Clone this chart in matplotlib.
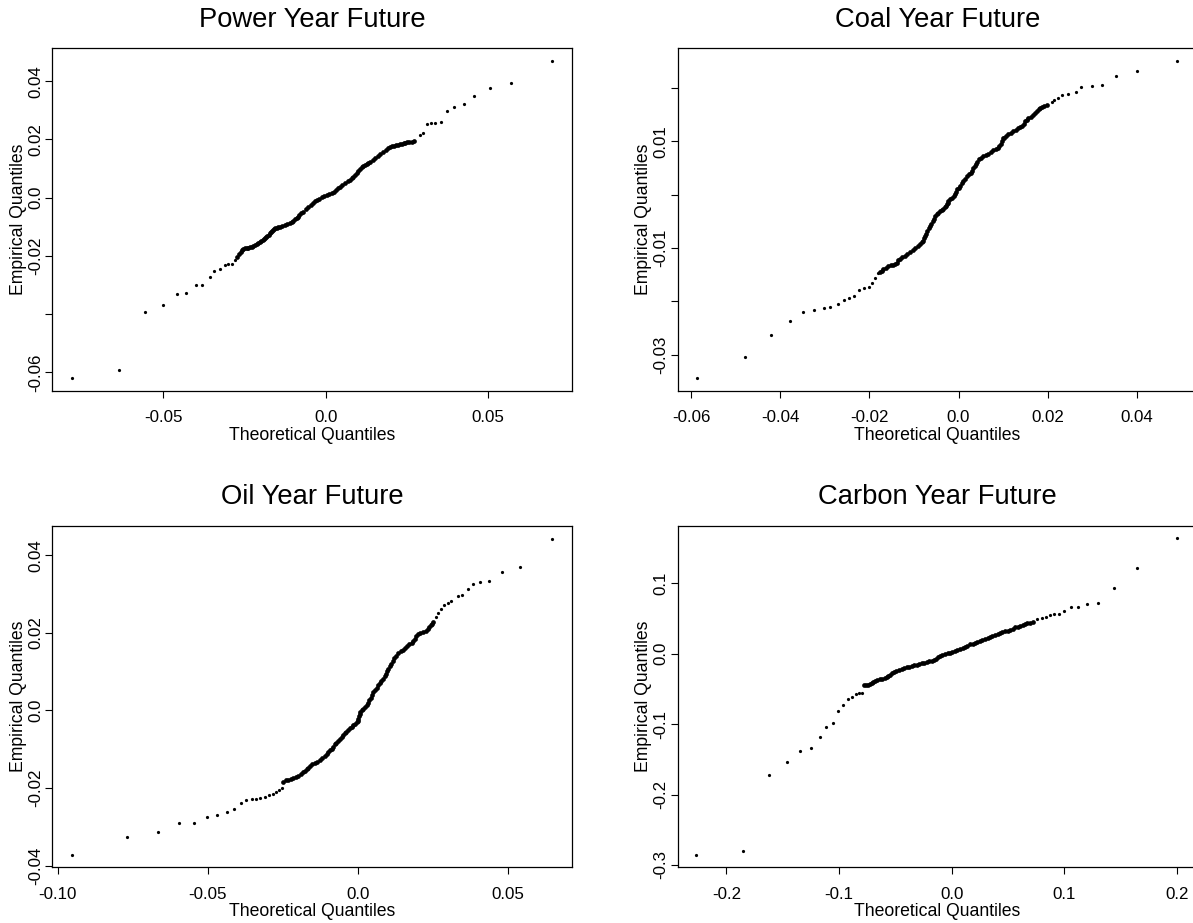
import matplotlib
matplotlib.use("Agg")
import matplotlib.pyplot as plt
import numpy as np

plt.rcParams['font.family'] = ['Liberation Sans', 'DejaVu Sans']

# ---------------- data ----------------
titles = ["Power Year Future", "Coal Year Future", "Oil Year Future", "Carbon Year Future"]

power_x = [-0.0782, -0.0637, -0.0555, -0.0499, -0.0457, -0.0429, -0.0398, -0.0380, -0.0356, -0.0342,
           -0.0325, -0.0311, -0.0300, -0.0289, -0.0278,
           -0.0272, -0.0265, -0.0260, -0.0256, -0.0253, -0.0248, -0.0243, -0.0238, -0.0233, -0.0228,
           -0.0223, -0.0218, -0.0212, -0.0207, -0.0202, -0.0198, -0.0194, -0.0190, -0.0187, -0.0183,
           -0.0179, -0.0175, -0.0171, -0.0168, -0.0166, -0.0162, -0.0159, -0.0155, -0.0151, -0.0146,
           -0.0140, -0.0133, -0.0125, -0.0118, -0.0110, -0.0104, -0.0099, -0.0094, -0.0089, -0.0085,
           -0.0081, -0.0075, -0.0069, -0.0061, -0.0053, -0.0046, -0.0038, -0.0032, -0.0027, -0.0020,
           -0.0012, -0.0005, 0.0003, 0.0011, 0.0019, 0.0026, 0.0032, 0.0038, 0.0044, 0.0052,
           0.0060, 0.0068, 0.0075, 0.0080, 0.0085, 0.0090, 0.0096, 0.0101, 0.0106, 0.0111,
           0.0116, 0.0122, 0.0127, 0.0132, 0.0137, 0.0145, 0.0152, 0.0160, 0.0167, 0.0177,
           0.0187, 0.0193, 0.0199, 0.0205, 0.0211, 0.0217, 0.0223, 0.0229, 0.0234, 0.0240,
           0.0246, 0.0252, 0.0258, 0.0266, 0.0273,
           0.0290, 0.0300, 0.0313, 0.0325, 0.0336, 0.0356, 0.0373, 0.0396, 0.0426, 0.0457,
           0.0505, 0.0572, 0.0696]
power_y = [-0.0621, -0.0593, -0.0391, -0.0370, -0.0330, -0.0329, -0.0301, -0.0299, -0.0273, -0.0251,
           -0.0246, -0.0230, -0.0229, -0.0229, -0.0215,
           -0.0204, -0.0193, -0.0186, -0.0180, -0.0176, -0.0174, -0.0172, -0.0172, -0.0171, -0.0169,
           -0.0166, -0.0163, -0.0159, -0.0155, -0.0151, -0.0148, -0.0145, -0.0142, -0.0140, -0.0136,
           -0.0132, -0.0127, -0.0122, -0.0117, -0.0113, -0.0110, -0.0108, -0.0105, -0.0103, -0.0101,
           -0.0100, -0.0098, -0.0095, -0.0092, -0.0088, -0.0084, -0.0080, -0.0075, -0.0071, -0.0065,
           -0.0059, -0.0053, -0.0048, -0.0040, -0.0033, -0.0026, -0.0019, -0.0013, -0.0008, -0.0003,
           0.0001, 0.0005, 0.0009, 0.0013, 0.0017, 0.0021, 0.0026, 0.0032, 0.0038, 0.0044,
           0.0050, 0.0056, 0.0061, 0.0066, 0.0070, 0.0077, 0.0084, 0.0091, 0.0098, 0.0104,
           0.0109, 0.0113, 0.0116, 0.0120, 0.0124, 0.0130, 0.0135, 0.0143, 0.0150, 0.0157,
           0.0164, 0.0169, 0.0173, 0.0176, 0.0178, 0.0180, 0.0182, 0.0184, 0.0186, 0.0188,
           0.0189, 0.0190, 0.0190, 0.0191, 0.0193,
           0.0215, 0.0223, 0.0252, 0.0256, 0.0257, 0.0259, 0.0296, 0.0313, 0.0322, 0.0350,
           0.0378, 0.0393, 0.0469]

coal_x = [-0.0588, -0.0480, -0.0420, -0.0379, -0.0349, -0.0324, -0.0301, -0.0289, -0.0271, -0.0258,
          -0.0247, -0.0234, -0.0223, -0.0212, -0.0200, -0.0194, -0.0187, -0.0181,
          -0.0176, -0.0172, -0.0169, -0.0163, -0.0158, -0.0152, -0.0146, -0.0142, -0.0139, -0.0135,
          -0.0131, -0.0126, -0.0120, -0.0115, -0.0109, -0.0103, -0.0098, -0.0092, -0.0086, -0.0082,
          -0.0079, -0.0077, -0.0075, -0.0073, -0.0070, -0.0067, -0.0064, -0.0061, -0.0058, -0.0055,
          -0.0053, -0.0049, -0.0045, -0.0041, -0.0038, -0.0034, -0.0030, -0.0028, -0.0026, -0.0024,
          -0.0023, -0.0019, -0.0015, -0.0011, -0.0008, -0.0005, -0.0003, 0.0000, 0.0003, 0.0007,
          0.0011, 0.0015, 0.0020, 0.0024, 0.0027, 0.0030, 0.0033, 0.0036, 0.0039, 0.0042,
          0.0045, 0.0050, 0.0056, 0.0061, 0.0067, 0.0072, 0.0078, 0.0084, 0.0089, 0.0092,
          0.0095, 0.0098, 0.0100, 0.0102, 0.0107, 0.0112, 0.0118, 0.0123, 0.0128, 0.0134,
          0.0139, 0.0142, 0.0146, 0.0149, 0.0153, 0.0157, 0.0163, 0.0167, 0.0171, 0.0176,
          0.0180, 0.0184, 0.0188, 0.0193, 0.0199,
          0.0210, 0.0214, 0.0224, 0.0233, 0.0245, 0.0263, 0.0275, 0.0299, 0.0323, 0.0353,
          0.0401, 0.0491]
coal_y = [-0.0343, -0.0303, -0.0262, -0.0236, -0.0219, -0.0216, -0.0213, -0.0211, -0.0205, -0.0198,
          -0.0194, -0.0190, -0.0179, -0.0175, -0.0173, -0.0165, -0.0156, -0.0146,
          -0.0145, -0.0143, -0.0140, -0.0137, -0.0134, -0.0132, -0.0131, -0.0129, -0.0127, -0.0123,
          -0.0120, -0.0117, -0.0114, -0.0111, -0.0108, -0.0104, -0.0099, -0.0096, -0.0093, -0.0089,
          -0.0087, -0.0082, -0.0078, -0.0073, -0.0068, -0.0063, -0.0059, -0.0054, -0.0050, -0.0045,
          -0.0040, -0.0037, -0.0034, -0.0031, -0.0029, -0.0027, -0.0024, -0.0021, -0.0018, -0.0015,
          -0.0012, -0.0009, -0.0006, -0.0003, 0.0001, 0.0005, 0.0010, 0.0013, 0.0016, 0.0021,
          0.0026, 0.0030, 0.0034, 0.0038, 0.0041, 0.0045, 0.0049, 0.0053, 0.0057, 0.0062,
          0.0066, 0.0069, 0.0072, 0.0075, 0.0077, 0.0080, 0.0084, 0.0086, 0.0088, 0.0091,
          0.0094, 0.0100, 0.0106, 0.0107, 0.0110, 0.0113, 0.0116, 0.0119, 0.0121, 0.0124,
          0.0127, 0.0129, 0.0133, 0.0138, 0.0140, 0.0143, 0.0146, 0.0149, 0.0152, 0.0157,
          0.0161, 0.0163, 0.0164, 0.0166, 0.0168,
          0.0173, 0.0178, 0.0181, 0.0186, 0.0188, 0.0193, 0.0201, 0.0204, 0.0205, 0.0223,
          0.0231, 0.0251]

oil_x = [-0.0953, -0.0767, -0.0665, -0.0594, -0.0545, -0.0503, -0.0468, -0.0437, -0.0413, -0.0389,
         -0.0372, -0.0353, -0.0340, -0.0325, -0.0310, -0.0296, -0.0283, -0.0271, -0.0261, -0.0252,
         -0.0248, -0.0240, -0.0231, -0.0223, -0.0215, -0.0207, -0.0198, -0.0190, -0.0181, -0.0176,
         -0.0170, -0.0165, -0.0159, -0.0151, -0.0143, -0.0135, -0.0126, -0.0118, -0.0109, -0.0104,
         -0.0098, -0.0093, -0.0087, -0.0082, -0.0076, -0.0071, -0.0065, -0.0060, -0.0054, -0.0049,
         -0.0043, -0.0038, -0.0032, -0.0026, -0.0020, -0.0015, -0.0009, -0.0004, 0.0000, 0.0002,
         0.0004, 0.0006, 0.0009, 0.0013, 0.0018, 0.0024, 0.0030, 0.0035, 0.0039, 0.0043,
         0.0048, 0.0052, 0.0057, 0.0063, 0.0068, 0.0074, 0.0079, 0.0085, 0.0090, 0.0094,
         0.0098, 0.0102, 0.0106, 0.0111, 0.0116, 0.0122, 0.0128, 0.0135, 0.0143, 0.0152,
         0.0158, 0.0165, 0.0172, 0.0180, 0.0185, 0.0190, 0.0195, 0.0201, 0.0209, 0.0218,
         0.0226, 0.0235, 0.0239, 0.0243, 0.0247, 0.0251,
         0.0260, 0.0268, 0.0276, 0.0287, 0.0299, 0.0312, 0.0335, 0.0348, 0.0366, 0.0385,
         0.0408, 0.0437, 0.0480, 0.0539, 0.0647]
oil_y = [-0.0373, -0.0325, -0.0314, -0.0291, -0.0291, -0.0274, -0.0270, -0.0261, -0.0254, -0.0238,
         -0.0231, -0.0227, -0.0227, -0.0226, -0.0222, -0.0218, -0.0214, -0.0210, -0.0205, -0.0199,
         -0.0183, -0.0180, -0.0178, -0.0176, -0.0174, -0.0171, -0.0168, -0.0164, -0.0159, -0.0156,
         -0.0152, -0.0148, -0.0143, -0.0139, -0.0135, -0.0132, -0.0128, -0.0123, -0.0118, -0.0113,
         -0.0107, -0.0102, -0.0098, -0.0093, -0.0087, -0.0083, -0.0078, -0.0073, -0.0068, -0.0064,
         -0.0059, -0.0055, -0.0051, -0.0046, -0.0042, -0.0038, -0.0034, -0.0030, -0.0026, -0.0021,
         -0.0015, -0.0009, -0.0004, 0.0001, 0.0005, 0.0010, 0.0014, 0.0019, 0.0026, 0.0033,
         0.0040, 0.0047, 0.0053, 0.0059, 0.0065, 0.0071, 0.0077, 0.0082, 0.0089, 0.0095,
         0.0101, 0.0108, 0.0114, 0.0121, 0.0128, 0.0134, 0.0140, 0.0147, 0.0152, 0.0157,
         0.0162, 0.0166, 0.0170, 0.0174, 0.0180, 0.0185, 0.0191, 0.0196, 0.0199, 0.0202,
         0.0206, 0.0211, 0.0216, 0.0220, 0.0224, 0.0228,
         0.0241, 0.0251, 0.0262, 0.0272, 0.0278, 0.0282, 0.0294, 0.0297, 0.0314, 0.0325,
         0.0331, 0.0333, 0.0357, 0.0370, 0.0443]

carbon_x = [-0.2267, -0.1854, -0.1626, -0.1464, -0.1350, -0.1253, -0.1172, -0.1116, -0.1057, -0.1007,
            -0.0963, -0.0924, -0.0886, -0.0850, -0.0820, -0.0794,
            -0.0776, -0.0758, -0.0741, -0.0725, -0.0710, -0.0695, -0.0681, -0.0659, -0.0637, -0.0615,
            -0.0592, -0.0578, -0.0563, -0.0548, -0.0533, -0.0514, -0.0495, -0.0470, -0.0444, -0.0422,
            -0.0400, -0.0378, -0.0355, -0.0333, -0.0311, -0.0289, -0.0266, -0.0244, -0.0222, -0.0200,
            -0.0178, -0.0159, -0.0139, -0.0122, -0.0104, -0.0082, -0.0060, -0.0037, -0.0015, 0.0007,
            0.0029, 0.0051, 0.0074, 0.0096, 0.0118, 0.0140, 0.0163, 0.0185, 0.0207, 0.0229,
            0.0251, 0.0273, 0.0296, 0.0318, 0.0340, 0.0362, 0.0385, 0.0407, 0.0429, 0.0451,
            0.0473, 0.0496, 0.0518, 0.0540, 0.0562, 0.0585, 0.0607, 0.0629, 0.0651, 0.0673,
            0.0695, 0.0725,
            0.0760, 0.0799, 0.0837, 0.0873, 0.0911, 0.0950, 0.1000, 0.1060, 0.1124, 0.1202,
            0.1302, 0.1437, 0.1646, 0.2002]
carbon_y = [-0.2859, -0.2802, -0.1723, -0.1534, -0.1382, -0.1335, -0.1188, -0.1037, -0.0989, -0.0814,
            -0.0725, -0.0637, -0.0615, -0.0577, -0.0563, -0.0553,
            -0.0449, -0.0446, -0.0440, -0.0431, -0.0421, -0.0405, -0.0388, -0.0376, -0.0364, -0.0355,
            -0.0345, -0.0331, -0.0317, -0.0298, -0.0279, -0.0262, -0.0246, -0.0230, -0.0213, -0.0203,
            -0.0194, -0.0185, -0.0175, -0.0166, -0.0156, -0.0147, -0.0137, -0.0128, -0.0118, -0.0109,
            -0.0099, -0.0085, -0.0071, -0.0052, -0.0033, -0.0018, -0.0004, 0.0005, 0.0016, 0.0029,
            0.0043, 0.0057, 0.0071, 0.0085, 0.0099, 0.0116, 0.0133, 0.0144, 0.0156, 0.0170,
            0.0185, 0.0199, 0.0213, 0.0227, 0.0241, 0.0254, 0.0266, 0.0280, 0.0294, 0.0306,
            0.0318, 0.0327, 0.0336, 0.0355, 0.0374, 0.0383, 0.0393, 0.0407, 0.0422, 0.0431,
            0.0441, 0.0450,
            0.0488, 0.0511, 0.0526, 0.0545, 0.0559, 0.0559, 0.0611, 0.0667, 0.0663, 0.0701,
            0.0724, 0.0937, 0.1212, 0.1638]

xticks = [[-0.05, 0.0, 0.05],
          [-0.06, -0.04, -0.02, 0.0, 0.02, 0.04],
          [-0.10, -0.05, 0.0, 0.05],
          [-0.2, -0.1, 0.0, 0.1, 0.2]]
xticklabels = [["-0.05", "0.0", "0.05"],
               ["-0.06", "-0.04", "-0.02", "0.0", "0.02", "0.04"],
               ["-0.10", "-0.05", "0.0", "0.05"],
               ["-0.2", "-0.1", "0.0", "0.1", "0.2"]]
yticks = [[-0.06, -0.04, -0.02, 0.0, 0.02, 0.04],
          [-0.03, -0.02, -0.01, 0.0, 0.01, 0.02],
          [-0.04, -0.02, 0.0, 0.02, 0.04],
          [-0.3, -0.2, -0.1, 0.0, 0.1]]
yticklabels = [["-0.06", "", "-0.02", "0.0", "0.02", "0.04"],
               ["-0.03", "", "-0.01", "", "0.01", ""],
               ["-0.04", "-0.02", "0.0", "0.02", "0.04"],
               ["-0.3", "-0.2", "-0.1", "0.0", "0.1"]]
xlims = [(-0.0841, 0.0759), (-0.0631, 0.0536), (-0.1017, 0.0714), (-0.2435, 0.2180)]
ylims = [(-0.0663, 0.0513), (-0.0367, 0.0274), (-0.0404, 0.0476), (-0.3034, 0.1818)]

# x-range where the points overlap heavily (drawn with a slightly bigger dot)
dense_ranges = [(-0.0273, 0.0274), (-0.0177, 0.0200), (-0.0249, 0.0252), (-0.0777, 0.0726)]

xs = [power_x, coal_x, oil_x, carbon_x]
ys = [power_y, coal_y, oil_y, carbon_y]

# ---------------- layout ----------------
W, H = 1193, 923
fig = plt.figure(figsize=(W / 100, H / 100), dpi=100)
fig.patch.set_facecolor("white")

aw = 519.7
boxes = [(52.4, 48.3, 390.7), (677.5, 48.3, 390.7), (52.4, 525.7, 867.3), (677.5, 525.7, 867.3)]

for i in range(4):
    left, top, bottom = boxes[i]
    ax = fig.add_axes([left / W, 1 - bottom / H, aw / W, (bottom - top) / H])
    x = np.asarray(xs[i])
    y = np.asarray(ys[i])
    lo, hi = dense_ranges[i]
    dense = (x >= lo) & (x <= hi)
    ax.plot(x[~dense], y[~dense], 'o', ms=2.3, color='black', mec='none')
    ax.plot(x[dense], y[dense], 'o', ms=3.4, color='black', mec='none')
    ax.set_xlim(*xlims[i])
    ax.set_ylim(*ylims[i])
    ax.set_xticks(xticks[i])
    ax.set_xticklabels(xticklabels[i])
    ax.set_yticks(yticks[i])
    ax.set_yticklabels(yticklabels[i], rotation=90, va='center')
    ax.tick_params(axis='both', direction='out', length=5, width=0.8, labelsize=12.2,
                   colors='black')
    ax.tick_params(axis='x', pad=9)
    ax.tick_params(axis='y', pad=1.5)
    for s in ax.spines.values():
        s.set_linewidth(0.9)
        s.set_color('black')
    ax.set_title(titles[i], fontsize=19.7, pad=15.5)
    ax.set_xlabel("Theoretical Quantiles", fontsize=12.7, labelpad=1)
    ax.set_ylabel("Empirical Quantiles", fontsize=12.7, labelpad=0.8)

fig.savefig("out.png", dpi=100, facecolor="white")
